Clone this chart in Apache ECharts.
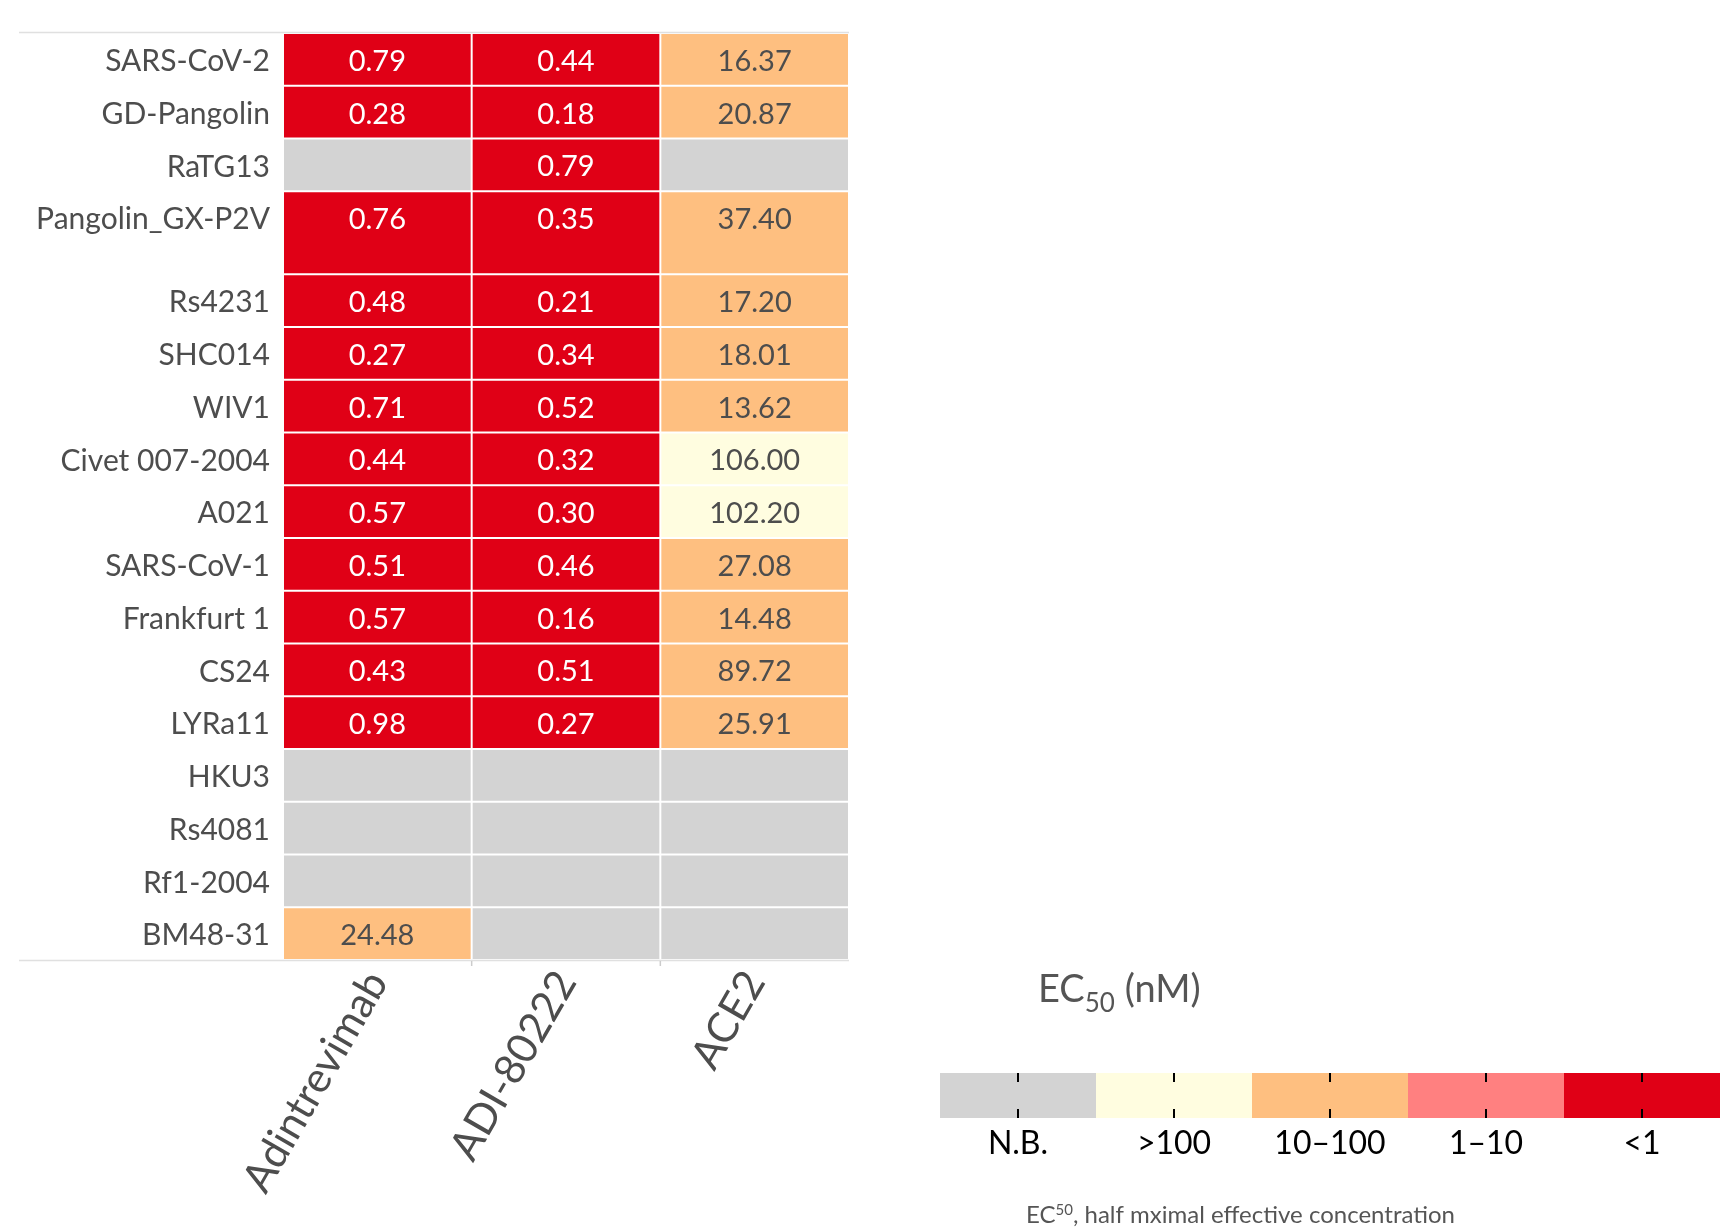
<!DOCTYPE html>
<html>
<head>
<meta charset="utf-8">
<title>EC50 heatmap</title>
<script src="https://cdn.jsdelivr.net/npm/echarts@6/dist/echarts.min.js"></script>
<style>
  html, body { margin: 0; padding: 0; background: #ffffff; }
  #chart { width: 1721px; height: 1228px; }
</style>
</head>
<body>
<div id="chart"></div>
<script>
// ---- data -------------------------------------------------------------
const columns = ['Adintrevimab', 'ADI-80222', 'ACE2'];

const strains = [
  'SARS-CoV-2', 'GD-Pangolin', 'RaTG13', 'Pangolin_GX-P2V', 'Rs4231',
  'SHC014', 'WIV1', 'Civet 007-2004', 'A021', 'SARS-CoV-1',
  'Frankfurt 1', 'CS24', 'LYRa11', 'HKU3', 'Rs4081', 'Rf1-2004', 'BM48-31'
];

// EC50 in nM; null = no binding (N.B.)
const adintrevimab = [0.79, 0.28, null, 0.76, 0.48, 0.27, 0.71, 0.44, 0.57, 0.51, 0.57, 0.43, 0.98, null, null, null, 24.48];
const adi80222     = [0.44, 0.18, 0.79, 0.35, 0.21, 0.34, 0.52, 0.32, 0.30, 0.46, 0.16, 0.51, 0.27, null, null, null, null];
const ace2         = [16.37, 20.87, null, 37.40, 17.20, 18.01, 13.62, 106.00, 102.20, 27.08, 14.48, 89.72, 25.91, null, null, null, null];

const legendLabels = ['N.B.', '>100', '10\u2013100', '1\u201310', '<1'];
const legendColors = ['#d3d3d3', '#fffde0', '#febf80', '#ff8080', '#e00016'];

// ---- layout -------------------------------------------------------------
const GRID = { left: 283, top: 33, width: 566, height: 927 };
const TALL_ROW = 'Pangolin_GX-P2V';
const TALL_ROW_SPAN = 1.575;
const TEXT_OFFSET = 0.54;   // label position inside a row, in row units from its top
const FONT = 'Lato, "Open Sans", sans-serif';

const valuesByColumn = [adintrevimab, adi80222, ace2];

function bandOf(v) {
  if (v === null || v === undefined) return 0;
  if (v > 100) return 1;
  if (v >= 10) return 2;
  if (v >= 1) return 3;
  return 4;
}

// cumulative row extents along the (inverted) value y axis
const rowSpans = strains.map(s => (s === TALL_ROW ? TALL_ROW_SPAN : 1));
const rowTops = [];
let acc = 0;
rowSpans.forEach(sp => { rowTops.push(acc); acc += sp; });
const totalSpan = acc;
const labelPos = rowTops.map(t => t + TEXT_OFFSET);

function nameAt(v) {
  const i = labelPos.findIndex(p => Math.abs(p - v) < 1e-6);
  return i >= 0 ? strains[i] : '';
}

const cells = [];
valuesByColumn.forEach((col, ci) => {
  strains.forEach((s, ri) => {
    cells.push({ value: [ci, rowTops[ri], rowTops[ri] + rowSpans[ri], ri], col: ci, row: ri });
  });
});

function renderCell(params, api) {
  const item = cells[params.dataIndex];
  const v = valuesByColumn[item.col][item.row];
  const band = bandOf(v);
  const ci = api.value(0);
  const y0 = api.value(1);
  const y1 = api.value(2);
  const colW = api.size([1, 0])[0];
  const pTop = api.coord([ci, y0]);
  const pBot = api.coord([ci, y1]);
  const pText = api.coord([ci, y0 + TEXT_OFFSET]);
  const children = [{
    type: 'rect',
    shape: { x: pTop[0] - colW / 2 + 1, y: pTop[1] + 1, width: colW - 2, height: pBot[1] - pTop[1] - 2 },
    style: { fill: legendColors[band] }
  }];
  if (band > 0) {
    children.push({
      type: 'text',
      style: {
        x: pText[0], y: pText[1],
        text: v.toFixed(2),
        align: 'center', verticalAlign: 'middle',
        fontFamily: FONT, fontSize: 29,
        fill: band >= 3 ? '#ffffff' : '#4d4d4d'
      }
    });
  }
  return { type: 'group', children };
}

// ---- legend & decorations --------------------------------------------------
const graphics = [];
const gridRight = GRID.left + GRID.width;
const gridBottom = GRID.top + GRID.height;

graphics.push({ type: 'line', shape: { x1: 19, y1: GRID.top - 0.5, x2: gridRight, y2: GRID.top - 0.5 }, style: { stroke: '#e0e0e0', lineWidth: 1.5 }, silent: true });
graphics.push({ type: 'line', shape: { x1: 19, y1: gridBottom + 0.5, x2: gridRight, y2: gridBottom + 0.5 }, style: { stroke: '#e0e0e0', lineWidth: 1.5 }, silent: true });
for (let k = 1; k < columns.length; k++) {
  const x = GRID.left + k * GRID.width / columns.length;
  graphics.push({ type: 'line', shape: { x1: x, y1: gridBottom + 1, x2: x, y2: gridBottom + 6 }, style: { stroke: '#cccccc', lineWidth: 1.5 }, silent: true });
}

const LEG = { x: 940, y: 1073, segW: 156, segH: 45 };
legendColors.forEach((c, i) => {
  const x = LEG.x + i * LEG.segW;
  const cx = x + LEG.segW / 2;
  graphics.push({ type: 'rect', shape: { x: x, y: LEG.y, width: LEG.segW, height: LEG.segH }, style: { fill: c }, silent: true });
  graphics.push({ type: 'line', shape: { x1: cx, y1: LEG.y, x2: cx, y2: LEG.y + 9 }, style: { stroke: '#000', lineWidth: 2 }, silent: true });
  graphics.push({ type: 'line', shape: { x1: cx, y1: LEG.y + LEG.segH - 9, x2: cx, y2: LEG.y + LEG.segH }, style: { stroke: '#000', lineWidth: 2 }, silent: true });
  graphics.push({
    type: 'text',
    style: { x: cx, y: LEG.y + 71, text: legendLabels[i], align: 'center', verticalAlign: 'middle', fontFamily: FONT, fontSize: 32, fill: '#000' },
    silent: true
  });
});

graphics.push({
  type: 'text',
  style: {
    x: 1038, y: 971,
    text: '{a|EC}{b|50}{a| (nM)}',
    verticalAlign: 'top',
    rich: {
      a: { fontFamily: FONT, fontSize: 38, lineHeight: 40, fill: '#555555', verticalAlign: 'top' },
      b: { fontFamily: FONT, fontSize: 26, lineHeight: 26, fill: '#555555', verticalAlign: 'top', padding: [20, 0, 0, 0] }
    }
  },
  silent: true
});

graphics.push({
  type: 'text',
  style: {
    x: 1026, y: 1203,
    text: '{a|EC}{b|50}{a|, half mximal effective concentration}',
    verticalAlign: 'top',
    rich: {
      a: { fontFamily: FONT, fontSize: 24, lineHeight: 26, fill: '#555555', verticalAlign: 'top' },
      b: { fontFamily: FONT, fontSize: 15, lineHeight: 15, fill: '#555555', verticalAlign: 'top' }
    }
  },
  silent: true
});

// ---- chart -------------------------------------------------------------
const chart = echarts.init(document.getElementById('chart'), null, { renderer: 'canvas' });
chart.setOption({
  animation: false,
  backgroundColor: '#ffffff',
  grid: { left: GRID.left, top: GRID.top, width: GRID.width, height: GRID.height },
  xAxis: {
    type: 'category',
    data: columns,
    axisLine: { show: false },
    axisTick: { show: false },
    splitLine: { show: false },
    axisLabel: { rotate: 60, interval: 0, margin: 15, fontFamily: FONT, fontSize: 42, color: '#4d4d4d' }
  },
  yAxis: {
    type: 'value',
    inverse: true,
    min: 0,
    max: totalSpan,
    axisLine: { show: false },
    axisTick: { show: false },
    splitLine: { show: false },
    axisLabel: {
      customValues: labelPos,
      formatter: v => nameAt(v),
      margin: 13,
      fontFamily: FONT, fontSize: 30, color: '#4d4d4d'
    }
  },
  series: [{
    type: 'custom',
    renderItem: renderCell,
    encode: { x: 0, y: [1, 2] },
    data: cells.map(c => c.value)
  }],
  graphic: graphics
});
</script>
</body>
</html>
